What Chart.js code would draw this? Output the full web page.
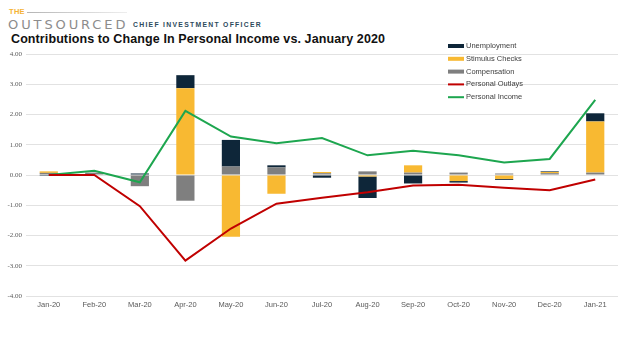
<!doctype html>
<html lang="en">

<head>
    <meta charset="utf-8">
    <title>Contributions to Change In Personal Income</title>
    <script src="https://cdn.jsdelivr.net/npm/chart.js@4.4.1/dist/chart.umd.min.js"></script>
    <style>
        html, body { margin: 0; padding: 0; background: #fff; }
        body { width: 624px; height: 343px; position: relative; overflow: hidden; font-family: "Liberation Sans", Arial, sans-serif; }
        #chart { position: absolute; left: 0; top: 0; }
        .brand-the { position: absolute; left: 9px; top: 7px; font-size: 7.5px; font-weight: bold; color: #f5b335; letter-spacing: 0.3px; }
        .brand-rule { position: absolute; left: 27px; top: 12px; width: 100px; height: 1px; background: linear-gradient(to right, #b5b5b5, #eeeeee); }
        .brand-main { position: absolute; left: 8px; top: 18px; font-family: "DejaVu Sans", sans-serif; font-size: 13px; color: #8c8c8c; letter-spacing: 2.9px; line-height: 13px; }
        .brand-sub { position: absolute; left: 133px; top: 21px; font-size: 6.8px; font-weight: bold; color: #2d4a5c; letter-spacing: 1.3px; }
        h1 { position: absolute; left: 11px; top: 32px; margin: 0; font-size: 12.5px; font-weight: bold; color: #111; white-space: nowrap; letter-spacing: 0.1px; }
    </style>
</head>

<body>
    <div class="brand-the">THE</div>
    <div class="brand-rule"></div>
    <div class="brand-main">OUTSOURCED</div>
    <div class="brand-sub">CHIEF INVESTMENT OFFICER</div>
    <h1>Contributions to Change In Personal Income vs. January 2020</h1>

    <canvas id="chart" width="624" height="343"></canvas>

    <script>
        // meses y contribuciones (puntos porcentuales)
        var meses = ['Jan-20', 'Feb-20', 'Mar-20', 'Apr-20', 'May-20', 'Jun-20', 'Jul-20', 'Aug-20', 'Sep-20', 'Oct-20', 'Nov-20', 'Dec-20', 'Jan-21'];
        var desempleo = [-0.03, 0, 0.05, 0.43, 0.88, 0.07, -0.09, -0.71, -0.28, -0.05, -0.03, 0.02, 0.27];
        var estimulo = [0.05, 0, 0, 2.87, -2.04, -0.62, 0.04, -0.05, 0.24, -0.20, -0.13, 0.04, 1.69];
        var compensacion = [0.07, 0.08, -0.37, -0.85, 0.28, 0.25, 0.06, 0.12, 0.08, 0.08, 0.05, 0.06, 0.08];
        var gastos = [0, 0, -1.03, -2.83, -1.77, -0.95, -0.75, -0.57, -0.35, -0.32, -0.42, -0.50, -0.15];
        var ingreso = [0, 0.14, -0.24, 2.12, 1.27, 1.05, 1.22, 0.65, 0.80, 0.65, 0.41, 0.53, 2.48];
        var ticksY = [-4, -3, -2, -1, 0, 1, 2, 3, 4];

        // orden de la leyenda (arriba a abajo)
        var ordenLeyenda = ['Unemployment', 'Stimulus Checks', 'Compensation', 'Personal Outlays', 'Personal Income'];

        // leyenda vertical dibujada dentro del área del gráfico
        var leyenda = {
            id: 'leyenda',
            afterDraw: function (chart) {
                var ctx = chart.ctx;
                var x = 448, y = 46, paso = 12.8;
                ctx.save();
                ctx.font = '7.5px "Liberation Sans", Arial, sans-serif';
                ctx.textBaseline = 'middle';
                ordenLeyenda.forEach(function (nombre, i) {
                    var ds = chart.data.datasets.find(function (d) { return d.label === nombre; });
                    var yy = y + i * paso;
                    ctx.fillStyle = ds.type === 'line' ? ds.borderColor : ds.backgroundColor;
                    if (ds.type === 'line') {
                        ctx.fillRect(x, yy - 1, 16, 2);
                    } else {
                        ctx.fillRect(x, yy - 2, 16, 4);
                    }
                    ctx.fillStyle = '#404040';
                    ctx.fillText(nombre, x + 18, yy);
                });
                ctx.restore();
            }
        };

        new Chart(document.getElementById('chart').getContext('2d'), {
            data: {
                labels: meses,
                datasets: [{
                    type: 'bar',
                    label: 'Compensation',
                    backgroundColor: '#7f7f7f',
                    data: compensacion,
                    stack: 'barras',
                    order: 1
                }, {
                    type: 'bar',
                    label: 'Stimulus Checks',
                    backgroundColor: '#f8b932',
                    data: estimulo,
                    stack: 'barras',
                    order: 2
                }, {
                    type: 'bar',
                    label: 'Unemployment',
                    backgroundColor: '#0e2639',
                    data: desempleo,
                    stack: 'barras',
                    order: 3
                }, {
                    type: 'line',
                    label: 'Personal Outlays',
                    borderColor: '#c00000',
                    borderWidth: 2,
                    pointRadius: 0,
                    tension: 0,
                    data: gastos,
                    stack: 'gastos',
                    order: 0
                }, {
                    type: 'line',
                    label: 'Personal Income',
                    borderColor: '#1da64f',
                    borderWidth: 2,
                    pointRadius: 0,
                    tension: 0,
                    data: ingreso,
                    stack: 'ingreso',
                    order: 0
                }]
            },
            options: {
                responsive: false,
                animation: false,
                layout: { padding: { top: 54, right: 6, bottom: 30, left: 0 } },
                datasets: { bar: { barPercentage: 0.4, categoryPercentage: 1 } },
                plugins: {
                    legend: { display: false },
                    tooltip: { enabled: false }
                },
                scales: {
                    x: {
                        stacked: true,
                        grid: { display: false, drawTicks: false },
                        border: { display: false },
                        ticks: {
                            color: '#595959',
                            padding: 4,
                            maxRotation: 0,
                            font: { family: '"Liberation Sans", Arial, sans-serif', size: 7.5 }
                        }
                    },
                    y: {
                        stacked: true,
                        min: ticksY[0],
                        max: ticksY[ticksY.length - 1],
                        afterFit: function (s) { s.width = 26; },
                        afterBuildTicks: function (s) { s.ticks = ticksY.map(function (v) { return { value: v }; }); },
                        grid: { color: '#e2e2e2', drawTicks: false },
                        border: { display: false },
                        ticks: {
                            color: '#595959',
                            padding: 4,
                            font: { family: '"Liberation Serif", "Times New Roman", serif', size: 7 },
                            callback: function (v) { return v.toFixed(2); }
                        }
                    }
                }
            },
            plugins: [leyenda]
        });
    </script>

</body>

</html>
